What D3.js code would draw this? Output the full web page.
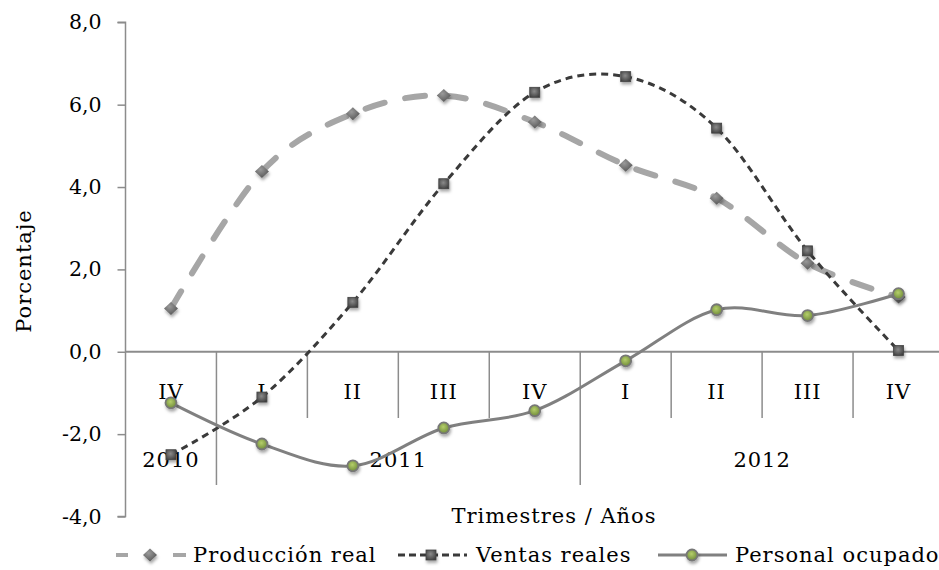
<!DOCTYPE html>
<html><head><meta charset="utf-8">
<script src="https://cdn.jsdelivr.net/npm/d3@7"></script>
<style>
html,body{margin:0;padding:0;background:#fff;}
svg text{font-family:"DejaVu Serif","Liberation Serif",serif;fill:#000;}
</style></head>
<body><svg id="c" width="939" height="570"></svg>
<script>
const quarters = ["IV","I","II","III","IV","I","II","III","IV"];
const years = [{label:"2010", from:0, to:1},{label:"2011", from:1, to:5},{label:"2012", from:5, to:9}];
const produccion = [1.05, 4.38, 5.78, 6.22, 5.58, 4.53, 3.73, 2.15, 1.33];
const ventas = [-2.5, -1.1, 1.2, 4.08, 6.3, 6.68, 5.43, 2.45, 0.03];
const personal = [-1.24, -2.24, -2.77, -1.85, -1.43, -0.22, 1.02, 0.88, 1.41];
const yTicks = [-4, -2, 0, 2, 4, 6, 8];
const seriesNames = ["Producción real", "Ventas reales", "Personal ocupado"];

const FS = 21, LS = 1;
const svg = d3.select("#c");
const defs = svg.append("defs");
const f = defs.append("filter").attr("id","sh").attr("x","-60%").attr("y","-60%").attr("width","220%").attr("height","220%");
f.append("feDropShadow").attr("dx",1).attr("dy",2.5).attr("stdDeviation",1.8).attr("flood-color","#000").attr("flood-opacity",0.35);
const gd = defs.append("radialGradient").attr("id","gdia").attr("cx","40%").attr("cy","35%").attr("r","70%");
gd.append("stop").attr("offset","0%").attr("stop-color","#9a9a9a");
gd.append("stop").attr("offset","100%").attr("stop-color","#555");
const gs = defs.append("radialGradient").attr("id","gsq").attr("cx","45%").attr("cy","40%").attr("r","70%");
gs.append("stop").attr("offset","0%").attr("stop-color","#8a8a8a");
gs.append("stop").attr("offset","100%").attr("stop-color","#3a3a3a");
const gc = defs.append("radialGradient").attr("id","gcir").attr("cx","45%").attr("cy","40%").attr("r","60%");
gc.append("stop").attr("offset","0%").attr("stop-color","#b5cf6a");
gc.append("stop").attr("offset","100%").attr("stop-color","#6f8a3a");

const x0 = 125.5, x1 = 944;
const x = d3.scaleBand().domain(d3.range(quarters.length)).range([x0, x1]).padding(0);
const y = d3.scaleLinear().domain([-4, 8]).range([516.5, 22.3]);
const cx = i => x(i) + x.bandwidth()/2;
const axisColor = "#8c8c8c";

// Y axis
const yAxis = d3.axisLeft(y).tickValues(yTicks).tickSize(8).tickPadding(16)
  .tickFormat(d => d3.format(".1f")(d).replace(".", ",").replace("−","-"));
const ga = svg.append("g").attr("transform", `translate(${x0},0)`).call(yAxis);
ga.selectAll("path,line").attr("stroke", axisColor).attr("stroke-width", 1.5);
ga.select(".domain").attr("d", `M-8,${y(8)}H0V${y(-4)}H-8`);
ga.selectAll("text").attr("font-size", 20.5).attr("font-family","DejaVu Serif").attr("fill","#000");

// X axis at zero
const zy = y(0);
svg.append("line").attr("x1", x0).attr("x2", x1).attr("y1", zy).attr("y2", zy)
  .attr("stroke", axisColor).attr("stroke-width", 1.8);
for (let i = 1; i < quarters.length; i++) {
  const isYear = years.some(yy => yy.from === i);
  svg.append("line").attr("x1", x(i)).attr("x2", x(i)).attr("y1", zy).attr("y2", isYear ? 485 : 418)
    .attr("stroke", axisColor).attr("stroke-width", 1.5);
}
svg.append("g").selectAll("text").data(quarters).join("text")
  .attr("x", (d,i) => cx(i)).attr("y", 399).attr("text-anchor","middle")
  .attr("font-size", FS).attr("letter-spacing", LS).text(d => d);
svg.append("g").selectAll("text").data(years).join("text")
  .attr("x", d => (x(d.from) + (d.to < quarters.length ? x(d.to) : x1))/2).attr("y", 467)
  .attr("text-anchor","middle").attr("font-size", FS).attr("letter-spacing", LS).text(d => d.label);

// Axis titles
svg.append("text").attr("x", 554).attr("y", 523).attr("text-anchor","middle").attr("font-size", FS).attr("letter-spacing", LS).text("Trimestres / Años");
svg.append("text").attr("transform", `translate(31,271) rotate(-90)`).attr("text-anchor","middle").attr("font-size", FS).attr("letter-spacing", LS).text("Porcentaje");

// Lines
const line = d3.line().x((d,i) => cx(i)).y(d => y(d)).curve(d3.curveCardinal.tension(0));
svg.append("path").datum(produccion).attr("d", line).attr("fill","none")
  .attr("stroke","#a6a6a6").attr("stroke-width",6).attr("stroke-dasharray","20,21").attr("stroke-linecap","round");
svg.append("path").datum(ventas).attr("d", line).attr("fill","none")
  .attr("stroke","#3a3a3a").attr("stroke-width",3).attr("stroke-dasharray","7,5");
svg.append("path").datum(personal).attr("d", line).attr("fill","none")
  .attr("stroke","#808080").attr("stroke-width",3);

// Markers
function diamond(g, px, py) {
  g.append("path").attr("d", `M${px},${py-6.5}L${px+7},${py}L${px},${py+6.5}L${px-7},${py}Z`)
    .attr("fill","url(#gdia)").attr("filter","url(#sh)");
}
function square(g, px, py) {
  g.append("rect").attr("x", px-5).attr("y", py-5).attr("width",10).attr("height",10)
    .attr("fill","url(#gsq)").attr("stroke","#444").attr("stroke-width",0.8).attr("filter","url(#sh)");
}
function circle(g, px, py) {
  g.append("circle").attr("cx", px).attr("cy", py).attr("r", 5.5)
    .attr("fill","url(#gcir)").attr("stroke","#777").attr("stroke-width",1.8).attr("filter","url(#sh)");
}
const gm = svg.append("g");
produccion.forEach((v,i) => diamond(gm, cx(i), y(v)));
ventas.forEach((v,i) => square(gm, cx(i), y(v)));
personal.forEach((v,i) => circle(gm, cx(i), y(v)));

// Legend
const ly = 555;
const lg = svg.append("g");
lg.append("line").attr("x1",116).attr("x2",128).attr("y1",ly).attr("y2",ly).attr("stroke","#a6a6a6").attr("stroke-width",4);
lg.append("line").attr("x1",173).attr("x2",186).attr("y1",ly).attr("y2",ly).attr("stroke","#a6a6a6").attr("stroke-width",4);
diamond(lg, 150, ly);
lg.append("text").attr("x",193).attr("y",ly+7).attr("font-size",FS).attr("letter-spacing", LS).text(seriesNames[0]);
lg.append("line").attr("x1",398).attr("x2",467).attr("y1",ly).attr("y2",ly).attr("stroke","#3a3a3a").attr("stroke-width",3).attr("stroke-dasharray","7,4");
square(lg, 431, ly);
lg.append("text").attr("x",476).attr("y",ly+7).attr("font-size",FS).attr("letter-spacing", LS).text(seriesNames[1]);
lg.append("line").attr("x1",658).attr("x2",727).attr("y1",ly).attr("y2",ly).attr("stroke","#808080").attr("stroke-width",3);
circle(lg, 692, ly);
lg.append("text").attr("x",735).attr("y",ly+7).attr("font-size",FS).attr("letter-spacing", LS).text(seriesNames[2]);
</script></body></html>
